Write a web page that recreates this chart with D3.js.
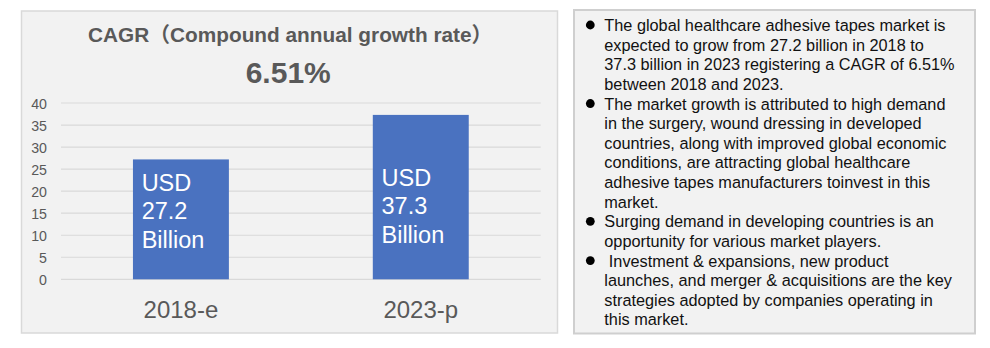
<!DOCTYPE html>
<html>
<head>
<meta charset="utf-8">
<script src="https://cdn.jsdelivr.net/npm/d3@7"></script>
<style>
  html, body { margin: 0; padding: 0; background: #ffffff; }
  svg { display: block; }
</style>
</head>
<body>
<svg id="chart" width="990" height="348"></svg>
<script>
// ---- data ----
const categories = ["2018-e", "2023-p"];
const values = [27.2, 37.3];
const yTicks = [0, 5, 10, 15, 20, 25, 30, 35, 40];
const barLabels = [["USD", "27.2", "Billion"], ["USD", "37.3", "Billion"]];
const titleText = "CAGR（Compound annual growth rate）";
const cagrText = "6.51%";
const bullets = [
  ["The global healthcare adhesive tapes market is",
   "expected to grow from 27.2 billion in 2018 to",
   "37.3 billion in 2023 registering a CAGR of 6.51%",
   "between 2018 and 2023."],
  ["The market growth is attributed to high demand",
   "in the surgery, wound dressing in developed",
   "countries, along with improved global economic",
   "conditions, are attracting global healthcare",
   "adhesive tapes manufacturers toinvest in this",
   "market."],
  ["Surging demand in developing countries is an",
   "opportunity for various market players."],
  ["\u00A0Investment & expansions, new product",
   "launches, and merger & acquisitions are the key",
   "strategies adopted by companies operating in",
   "this market."]
];

// ---- layout ----
const FONT = "'Liberation Sans', Arial, Helvetica, 'Noto Sans CJK SC', sans-serif";
const svg = d3.select("#chart");

// left panel
svg.append("rect")
  .attr("x", 21.5).attr("y", 11).attr("width", 536).attr("height", 322)
  .attr("fill", "#f2f2f2").attr("stroke", "#d9d9d9").attr("stroke-width", 1.5);

const y = d3.scaleLinear().domain([0, 40]).range([279.3, 103]);
const x = d3.scaleBand().domain(categories).range([61, 540.7])
  .paddingInner(0.6).paddingOuter(0.3);

// gridlines
svg.append("g").selectAll("line").data(yTicks).join("line")
  .attr("x1", 61).attr("x2", 540.7)
  .attr("y1", d => y(d)).attr("y2", d => y(d))
  .attr("stroke", "#d9d9d9").attr("stroke-width", 1.2);

// y axis labels
const yAxis = d3.axisLeft(y).tickValues(yTicks).tickSize(0).tickPadding(0);
const gy = svg.append("g").attr("transform", "translate(47,0)").call(yAxis);
gy.select(".domain").remove();
gy.selectAll("text")
  .attr("font-family", FONT).attr("font-size", 14.2).attr("fill", "#595959")
  .attr("dy", "0.36em");

// bars
svg.append("g").selectAll("rect").data(values).join("rect")
  .attr("x", (d, i) => x(categories[i]))
  .attr("y", d => y(d))
  .attr("width", x.bandwidth())
  .attr("height", d => y(0) - y(d))
  .attr("fill", "#4a72c0");

// bar labels (block middle anchored on value positions within the bar)
const labelMid = [13.6, 14.75];
const lineH = 28.3;
barLabels.forEach((lines, i) => {
  const midBase = y(labelMid[i]);
  svg.append("text")
    .attr("font-family", FONT).attr("font-size", 23.5).attr("fill", "#ffffff")
    .selectAll("tspan").data(lines).join("tspan")
    .attr("x", x(categories[i]) + 8.7)
    .attr("y", (d, j) => midBase + (j - 1) * lineH)
    .text(d => d);
});

// x axis labels
const xAxis = d3.axisBottom(x).tickSize(0).tickPadding(0);
const gx = svg.append("g").attr("transform", "translate(0,317.7)").call(xAxis);
gx.select(".domain").remove();
gx.selectAll("text")
  .attr("font-family", FONT).attr("font-size", 24).attr("fill", "#595959")
  .attr("dy", 0);

// titles
svg.append("text")
  .attr("x", 88).attr("y", 42.3)
  .attr("font-family", FONT).attr("font-size", 20.8).attr("font-weight", "bold")
  .attr("fill", "#595959").text(titleText);
svg.append("text")
  .attr("x", 245.7).attr("y", 83)
  .attr("font-family", FONT).attr("font-size", 30).attr("font-weight", "bold")
  .attr("fill", "#595959").text(cagrText);

// right panel
svg.append("rect")
  .attr("x", 574).attr("y", 10).attr("width", 401).attr("height", 323.5)
  .attr("fill", "#f2f2f2").attr("stroke", "#cfcfcf").attr("stroke-width", 2);

const textLH = 19.63;
let lineIdx = 0;
const tg = svg.append("g");
bullets.forEach(lines => {
  const base = 31 + lineIdx * textLH;
  tg.append("circle").attr("cx", 590.3).attr("cy", base - 6).attr("r", 4.4).attr("fill", "#000");
  lines.forEach(l => {
    tg.append("text")
      .attr("x", 604.3).attr("y", 31 + lineIdx * textLH)
      .attr("font-family", FONT).attr("font-size", 16.3).attr("fill", "#111")
      .text(l);
    lineIdx++;
  });
});
</script>
</body>
</html>
